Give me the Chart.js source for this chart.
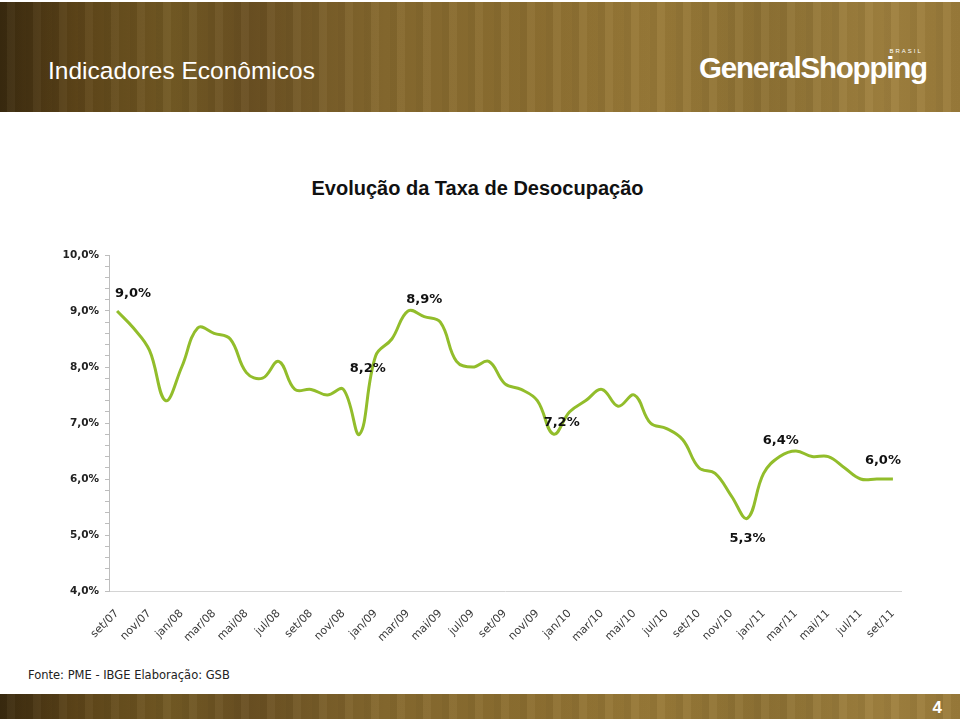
<!DOCTYPE html>
<html lang="pt-BR">
<head>
<meta charset="utf-8">
<title>Evolução da Taxa de Desocupação</title>
<script src="https://cdn.jsdelivr.net/npm/chart.js@4/dist/chart.umd.min.js"></script>
<style>
  html, body { margin: 0; padding: 0; background: #fff; }
  body { width: 960px; height: 720px; position: relative; overflow: hidden; font-family: "DejaVu Sans", sans-serif; }
  .band {
    position: absolute; left: 0; width: 960px;
    background:
      repeating-linear-gradient(90deg, rgba(0,0,0,0.06) 0 7px, rgba(255,255,255,0.03) 7px 15px, rgba(0,0,0,0.03) 15px 26px),
      linear-gradient(90deg, #3a2a0f 0%, #5e4519 8%, #735a24 18%, #6a5022 26%, #86692e 40%, #8d6f31 55%, #997a38 68%, #8e7234 80%, #a0813f 92%, #9a7b3a 100%);
  }
  #top { top: 2px; height: 110px; }
  #bottom { top: 694px; height: 25px; }
  #section { position: absolute; left: 48px; top: 57px; color: #fff; font-family: "Liberation Sans", sans-serif; font-size: 24.5px; }
  #logo { position: absolute; left: 699px; top: 51px; color: #fff; font-family: "Liberation Sans", sans-serif; font-weight: bold; font-size: 29.5px; letter-spacing: -1.2px; }
  #logo small { position: absolute; right: 4px; top: -3px; font-size: 6px; letter-spacing: 2px; font-weight: normal; }
  #page { position: absolute; right: 18px; top: 698px; color: #fff; font-family: "Liberation Sans", sans-serif; font-weight: bold; font-size: 17px; }
  #title { position: absolute; left: 0; width: 955px; top: 177px; text-align: center; font-family: "Liberation Sans", sans-serif; font-weight: bold; font-size: 20px; color: #111; }
  #source { position: absolute; left: 28px; top: 668px; font-size: 11.5px; color: #222; }
  #wrap { position: absolute; left: 0; top: 240px; width: 960px; height: 420px; }
</style>
</head>
<body>
<div class="band" id="top"></div>
<div id="section">Indicadores Econômicos</div>
<div id="logo">GeneralShopping<small>BRASIL</small></div>
<div id="title">Evolução da Taxa de Desocupação</div>
<div id="wrap"><canvas id="chart" width="960" height="420"></canvas></div>
<div id="source">Fonte: PME - IBGE Elaboração: GSB</div>
<div class="band" id="bottom"></div>
<div id="page">4</div>

<script>
// Monthly unemployment rate, set/07 .. set/11
const months = [
  'set/07', 'out/07', 'nov/07', 'dez/07',
  'jan/08', 'fev/08', 'mar/08', 'abr/08', 'mai/08', 'jun/08', 'jul/08', 'ago/08', 'set/08', 'out/08', 'nov/08', 'dez/08',
  'jan/09', 'fev/09', 'mar/09', 'abr/09', 'mai/09', 'jun/09', 'jul/09', 'ago/09', 'set/09', 'out/09', 'nov/09', 'dez/09',
  'jan/10', 'fev/10', 'mar/10', 'abr/10', 'mai/10', 'jun/10', 'jul/10', 'ago/10', 'set/10', 'out/10', 'nov/10', 'dez/10',
  'jan/11', 'fev/11', 'mar/11', 'abr/11', 'mai/11', 'jun/11', 'jul/11', 'ago/11', 'set/11'
];

const rates = [
  9.0, 8.7, 8.3, 7.4,
  8.0, 8.7, 8.6, 8.5, 7.9, 7.8, 8.1, 7.6, 7.6, 7.5, 7.6, 6.8,
  8.2, 8.5, 9.0, 8.9, 8.8, 8.1, 8.0, 8.1, 7.7, 7.6, 7.4, 6.8,
  7.2, 7.4, 7.6, 7.3, 7.5, 7.0, 6.9, 6.7, 6.2, 6.1, 5.7, 5.3,
  6.1, 6.4, 6.5, 6.4, 6.4, 6.2, 6.0, 6.0, 6.0
];

// Points that carry a value label
const labelledPoints = [0, 16, 19, 28, 39, 41, 48];

// Label placement relative to the point (styling only)
const labelOffsets = {
  0: [16, -17], 16: [-8, 13], 19: [0, -17], 28: [-8, 11],
  39: [0, 20], 41: [1, -16], 48: [-10, -18]
};

const yTickMin = 4;
const yTickMax = 10;

function fmtPct(v) {
  return v.toFixed(1).replace('.', ',') + '%';
}

/**
 * Draw value labels next to selected points
 */
const valueLabels = {
  id: 'valueLabels',
  afterDatasetsDraw(chart) {
    const ctx = chart.ctx;
    const meta = chart.getDatasetMeta(0);
    ctx.save();
    ctx.font = 'bold 13px "DejaVu Sans", sans-serif';
    ctx.fillStyle = '#111';
    ctx.textAlign = 'center';
    ctx.textBaseline = 'middle';
    labelledPoints.forEach(i => {
      const pt = meta.data[i];
      const off = labelOffsets[i] || [0, -16];
      ctx.fillText(fmtPct(rates[i]), pt.x + off[0], pt.y + off[1]);
    });
    ctx.restore();
  }
};

new Chart(document.getElementById('chart').getContext('2d'), {
  type: 'line',
  data: {
    labels: months,
    datasets: [{
      data: rates,
      borderColor: '#92bd2b',
      borderWidth: 3,
      pointRadius: 0,
      tension: 0.4,
      fill: false,
    }],
  },
  options: {
    responsive: false,
    animation: false,
    layout: { padding: { top: 15, right: 59, bottom: 0, left: 0 } },
    plugins: {
      legend: { display: false },
      tooltip: { enabled: false },
    },
    scales: {
      x: {
        offset: true,
        grid: { display: false },
        border: { display: true, color: '#d4d4d4', width: 1 },
        ticks: {
          autoSkip: false,
          minRotation: 45,
          maxRotation: 45,
          padding: 8,
          color: '#3a3a3a',
          font: { family: '"DejaVu Sans", sans-serif', size: 11 },
          callback: (v, i) => (i % 2 === 0 ? months[i] : ''),
        },
        afterFit: scale => { scale.height = 69; },
      },
      y: {
        min: yTickMin,
        max: yTickMax,
        grid: { drawOnChartArea: false, tickLength: 4, color: '#bdbdbd' },
        border: { display: true, color: '#bdbdbd' },
        ticks: {
          stepSize: 0.2,
          autoSkip: false,
          padding: 6,
          color: '#222',
          font: { family: '"DejaVu Sans", sans-serif', size: 10.5, weight: 'bold' },
          callback: v => (Math.abs(v - Math.round(v)) < 1e-6 ? fmtPct(v) : ''),
        },
        afterFit: scale => { scale.width = 109; },
      },
    },
  },
  plugins: [valueLabels],
});
</script>
</body>
</html>
